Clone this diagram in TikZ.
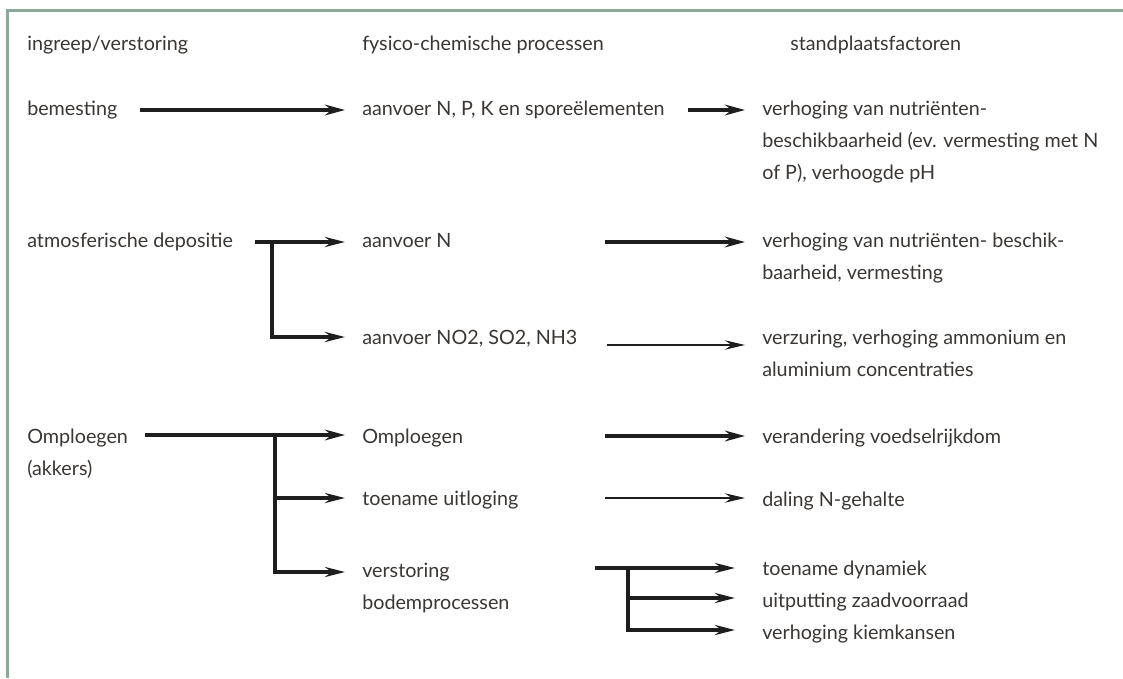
\documentclass[tikz,border=0pt]{standalone}
\usepackage{fontspec}
\setmainfont{Lato}
\usetikzlibrary{arrows.meta,calc}
\definecolor{framecol}{HTML}{8BA898}
\definecolor{txt}{HTML}{3A3633}
\definecolor{arr}{HTML}{1E1E1E}
\begin{document}
\begin{tikzpicture}[x=0.75pt,y=-0.75pt,
  lbl/.style={anchor=base west,inner sep=0pt,text=txt,align=left,font=\fontsize{14.8}{24}\selectfont},
  framel/.style={draw=framecol,line width=2.25pt},
  bigarr/.style={draw=arr,line width=3.4pt,-{Stealth[length=15pt,width=8pt,inset=5pt]}},
  midarr/.style={draw=arr,line width=2.6pt,-{Stealth[length=15pt,width=7.5pt,inset=5pt]}},
  thinarr/.style={draw=arr,line width=1.9pt,-{Stealth[length=15pt,width=7pt,inset=5pt]}},
  midline/.style={draw=arr,line width=2.6pt}]
\useasboundingbox (0,0) rectangle (1123,678);
\draw[framel] (7,678) -- (7,10) -- (1123,10);

% multi-line nodes are placed by the baseline of their last line
\node[lbl] (h1) at (27,50) {ingreep/verstoring};
\node[lbl] (h2) at (362,50) {fysico-chemische processen};
\node[lbl] (h3) at (790,50) {standplaatsfactoren};
\node[lbl] (bem) at (27,115) {bemesting};
\node[lbl] (npk) at (362,115) {aanvoer N, P, K en sporeëlementen};
\node[lbl] (nutr1) at (762,179) {verhoging van nutriënten-\\beschikbaarheid (ev. vermesting met N\\of P), verhoogde pH};
\node[lbl] (atm) at (27,247) {atmosferische depositie};
\node[lbl] (aN) at (362,247) {aanvoer N};
\node[lbl] (nutr2) at (762,279) {verhoging van nutriënten- beschik-\\baarheid, vermesting};
\node[lbl] (aNO) at (362,344) {aanvoer NO2, SO2, NH3};
\node[lbl] (verz) at (762,376) {verzuring, verhoging ammonium en\\aluminium concentraties};
\node[lbl] (omp) at (27,475) {Omploegen\\(akkers)};
\node[lbl] (omp2) at (362,443) {Omploegen};
\node[lbl] (voed) at (762,443) {verandering voedselrijkdom};
\node[lbl] (uitl) at (362,505) {toename uitloging};
\node[lbl] (dal) at (762,506) {daling N-gehalte};
\node[lbl] (vbod) at (362,609) {verstoring\\bodemprocessen};
\node[lbl] (dyn) at (762,575) {toename dynamiek};
\node[lbl] (zaad) at (762,607) {uitputting zaadvoorraad};
\node[lbl] (kiem) at (762,639) {verhoging kiemkansen};

% bemesting
\draw[bigarr] ([shift={(113,-5)}]bem.base west) -- ([shift={(-17,-5)}]npk.base west);
\draw[bigarr] ([shift={(326,-5)}]npk.base west) -- ([shift={(-17,-69)}]nutr1.base west);

% atmosferische depositie
\coordinate (atmB) at ([shift={(245,-5)}]atm.base west);
\draw[midarr] ([shift={(228,-5)}]atm.base west) -- ([shift={(-17,-5)}]aN.base west);
\draw[midarr] (atmB) |- ([shift={(-17,-7)}]aNO.base west);
\draw[bigarr] ([shift={(243,-5)}]aN.base west) -- ([shift={(-17,-37)}]nutr2.base west);
\draw[thinarr] ([shift={(245,1)}]aNO.base west) -- ([shift={(-17,-31)}]verz.base west);

% omploegen
\coordinate (ompB) at ([shift={(248,-40)}]omp.base west);
\draw[bigarr] ([shift={(118,-40)}]omp.base west) -- ([shift={(-17,-8)}]omp2.base west);
\draw[midarr] (ompB) |- ([shift={(-17,-7)}]uitl.base west);
\draw[midarr] (ompB) |- ([shift={(-17,-37)}]vbod.base west);
\draw[bigarr] ([shift={(243,-7)}]omp2.base west) -- ([shift={(-17,-7)}]voed.base west);
\draw[thinarr] ([shift={(243,-7)}]uitl.base west) -- ([shift={(-17,-8)}]dal.base west);

% verstoring bodemprocessen
\coordinate (vB) at ([shift={(266,-41)}]vbod.base west);
\draw[midline] ([shift={(233,-41)}]vbod.base west) -- (vB);
\draw[midarr] (vB) -- ([shift={(-27,-7)}]dyn.base west);
\draw[midarr] (vB) |- ([shift={(-27,-9)}]zaad.base west);
\draw[midarr] (vB) |- ([shift={(-27,-9)}]kiem.base west);
\end{tikzpicture}
\end{document}
